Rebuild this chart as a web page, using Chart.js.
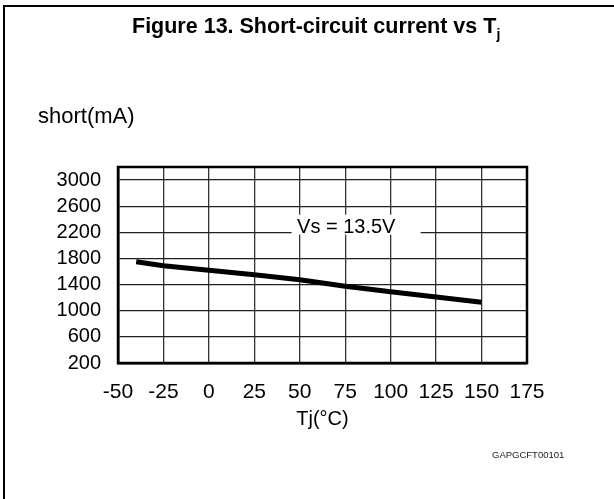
<!DOCTYPE html>
<html>
<head>
<meta charset="utf-8">
<script src="https://cdn.jsdelivr.net/npm/chart.js@4.4.1/dist/chart.umd.min.js"></script>
<style>
  body { margin: 0; background: #fff; }
  #wrap { position: relative; width: 614px; height: 499px; overflow: hidden; font-family: "Liberation Sans", Arial, sans-serif; }
  #frame { position: absolute; left: 3px; top: 5px; right: 0; bottom: 0; border-top: 2px solid #000; border-left: 2px solid #000; }
  #chart { position: absolute; left: 0; top: 0; }
  .txt { position: absolute; white-space: nowrap; line-height: 1; color: #000; }
  #title { left: 132px; top: 16px; font-size: 21.5px; font-weight: bold; }
  #title sub { font-size: 14px; vertical-align: -6px; line-height: 0; }
  #ylabel { left: 38px; top: 105px; font-size: 22px; }
  #code { left: 492px; top: 450px; font-size: 9.5px; color: #222; }
</style>
</head>
<body>
<div id="wrap">
  <div id="frame"></div>
  <canvas id="chart" width="614" height="499"></canvas>
  <div class="txt" id="title">Figure 13. Short-circuit current vs T<sub>j</sub></div>
  <div class="txt" id="ylabel">short(mA)</div>
  <div class="txt" id="code">GAPGCFT00101</div>
</div>
<script>
// Data
const tjValues = [-40, -25, 0, 25, 50, 75, 100, 125, 150];
const currentValues = [1750, 1690, 1620, 1550, 1475, 1375, 1290, 1210, 1130];
const xTicks = [-50, -25, 0, 25, 50, 75, 100, 125, 150, 175];
const yTicks = [200, 600, 1000, 1400, 1800, 2200, 2600, 3000];
const seriesLabel = 'Vs = 13.5V';
const xTitle = 'Tj(°C)';

const fontFamily = '"Liberation Sans", Arial, sans-serif';
Chart.defaults.font.family = fontFamily;
Chart.defaults.color = '#000';

// Label box over the 2200 grid line, and the outline of the plot area
const decor = {
  id: 'decor',
  beforeDatasetsDraw(chart) {
    const { ctx, scales: { x, y } } = chart;
    const x0 = x.getPixelForValue(45.5), x1 = x.getPixelForValue(116.5);
    const y0 = y.getPixelForValue(2470), y1 = y.getPixelForValue(2165);
    ctx.save();
    ctx.fillStyle = '#fff';
    ctx.fillRect(x0, y0, x1 - x0, y1 - y0);
    ctx.fillStyle = '#000';
    ctx.font = '20px ' + fontFamily;
    ctx.textBaseline = 'alphabetic';
    ctx.fillText(seriesLabel, x.getPixelForValue(48.5), y.getPixelForValue(2190));
    ctx.restore();
  },
  afterDraw(chart) {
    const { ctx, chartArea: a } = chart;
    ctx.save();
    ctx.strokeStyle = '#000';
    ctx.lineWidth = 2.5;
    ctx.strokeRect(a.left, a.top, a.right - a.left, a.bottom - a.top);
    ctx.restore();
  }
};

new Chart(document.getElementById('chart'), {
  type: 'line',
  data: {
    datasets: [{
      data: tjValues.map((t, i) => ({ x: t, y: currentValues[i] })),
      borderColor: '#000',
      borderWidth: 5,
      pointRadius: 0,
      tension: 0,
      borderCapStyle: 'butt'
    }]
  },
  options: {
    responsive: false,
    animation: false,
    devicePixelRatio: 1,
    layout: { padding: { left: 0, top: 167, right: 87, bottom: 0 } },
    plugins: { legend: { display: false }, tooltip: { enabled: false } },
    scales: {
      x: {
        type: 'linear',
        min: -50,
        max: 175,
        afterBuildTicks: s => { s.ticks = xTicks.map(v => ({ value: v })); },
        afterFit: s => { s.height = 136; },
        grid: { color: '#333', lineWidth: 1.3, drawTicks: false },
        border: { color: '#000', width: 2.5 },
        ticks: { padding: 17, font: { size: 21 }, maxRotation: 0, autoSkip: false, callback: v => String(v) },
        title: { display: true, text: xTitle, font: { size: 20 }, padding: { top: 0, bottom: 68 } }
      },
      y: {
        type: 'linear',
        min: 200,
        max: 3200,
        afterBuildTicks: s => { s.ticks = yTicks.map(v => ({ value: v })); },
        afterFit: s => { s.width = 118; },
        grid: { color: '#222', lineWidth: 1.2, drawTicks: false },
        border: { color: '#000', width: 2.5 },
        ticks: { padding: 17, font: { size: 20 }, autoSkip: false, callback: v => String(v) }
      }
    }
  },
  plugins: [decor]
});
</script>
</body>
</html>
